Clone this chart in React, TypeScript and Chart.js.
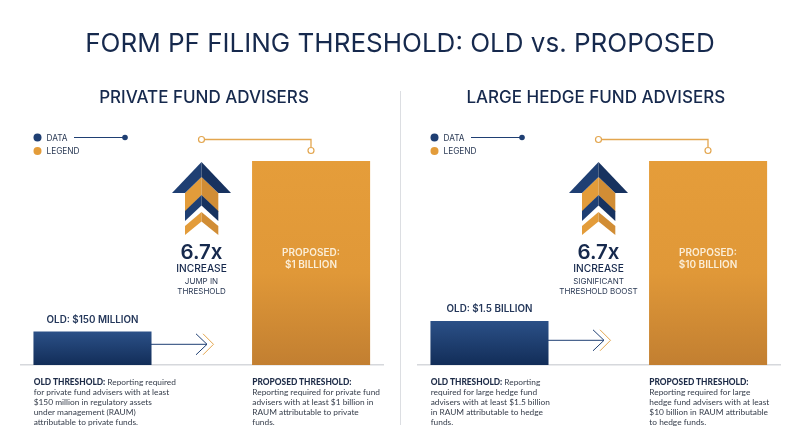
import React, { useEffect, useRef } from "react";
import { Chart, registerables } from "chart.js";

Chart.register(...registerables);

const categories = ["Old threshold", "Proposed threshold"];
const categoryPositions = [0, 1];
const privateValues = [162, 1000];
const hedgeValues = [2.14, 10];
const privateMax = 1000;
const hedgeMax = 10;

const mainTitle = "FORM PF FILING THRESHOLD: OLD vs. PROPOSED";
const legendLabels = ["DATA", "LEGEND"];

const privateText = {
  title: "PRIVATE FUND ADVISERS",
  titleX: 204,
  note: ["JUMP IN", "THRESHOLD"],
  proposed: "$1 BILLION",
  old: "OLD: $150 MILLION",
  oldLabelY: 320,
  oldLines: ["Reporting required", "for private fund advisers with at least", "$150 million in regulatory assets", "under management (RAUM)", "attributable to private funds."],
  newLines: ["", "Reporting required for private fund", "advisers with at least $1 billion in", "RAUM attributable to private", "funds."],
};
const hedgeText = {
  title: "LARGE HEDGE FUND ADVISERS",
  titleX: 198.8,
  note: ["SIGNIFICANT", "THRESHOLD BOOST"],
  proposed: "$10 BILLION",
  old: "OLD: $1.5 BILLION",
  oldLabelY: 309,
  oldLines: ["Reporting", "required for large hedge fund", "advisers with at least $1.5 billion", "in RAUM attributable to hedge", "funds."],
  newLines: ["", "Reporting required for large", "hedge fund advisers with at least", "$10 billion in RAUM attributable", "to hedge funds."],
};

const NAVY = "#1f3f73";
const NAVY_DARK = "#17325f";
const GOLD = "#e39c3a";
const GOLD_DARK = "#d18d35";
const LINE_GOLD = "#e3a64f";
const INK = "#16294d";
const HEAD = "Inter, 'Open Sans', sans-serif";
const BODY = "Lato, 'Open Sans', sans-serif";

function BarPanel({ values, max }: { values: number[]; max: number }) {
  const ref = useRef<HTMLCanvasElement | null>(null);
  useEffect(() => {
    const chart = new Chart(ref.current!, {
      type: "bar",
      data: {
        datasets: [
          {
            label: "Filing threshold",
            data: categoryPositions.map((x, i) => ({ x, y: values[i], name: categories[i] })) as any,
            barThickness: 117.4,
            backgroundColor: (c: any) => {
              const area = c.chart.chartArea;
              if (!area) return GOLD;
              const top = c.chart.scales.y.getPixelForValue(values[c.dataIndex]);
              const g = c.chart.ctx.createLinearGradient(0, top, 0, area.bottom);
              if (c.dataIndex === 0) {
                g.addColorStop(0, "#2b5087");
                g.addColorStop(1, "#122d58");
              } else {
                g.addColorStop(0, "#e59d3a");
                g.addColorStop(0.55, "#e09838");
                g.addColorStop(1, "#c27f31");
              }
              return g;
            },
          },
        ],
      },
      options: {
        responsive: false,
        animation: false,
        layout: { padding: { left: 21, right: 17, top: 161, bottom: 74 } },
        plugins: { legend: { display: false }, title: { display: false }, tooltip: { enabled: false } },
        scales: {
          x: {
            type: "linear",
            offset: false,
            min: -0.327,
            max: 1.329,
            grid: { display: false },
            border: { display: true, color: "#d6d8dc", width: 1.5 },
            ticks: { display: false },
          },
          y: { display: false, min: 0, max },
        },
      },
    });
    return () => chart.destroy();
  }, [values, max]);
  return <canvas ref={ref} width={400} height={447} style={{ position: "absolute", left: 0, top: 0, display: "block" }} />;
}

function T({ x, y, size, weight = 400, color = INK, font = HEAD, align = "center", spacing = 0, children }: any) {
  const tx = align === "center" ? "-50%" : "0";
  return (
    <div
      style={{
        position: "absolute",
        left: x,
        top: y,
        transform: `translate(${tx}, -50%)`,
        fontFamily: font,
        fontSize: size,
        fontWeight: weight,
        color,
        whiteSpace: "pre",
        lineHeight: 1,
        letterSpacing: spacing,
      }}
    >
      {children}
    </div>
  );
}

function Decor({ arrowY }: { arrowY: number }) {
  return (
    <svg width={400} height={447} style={{ position: "absolute", left: 0, top: 0 }}>
      <circle cx={37.5} cy={137.5} r={4} fill={NAVY} />
      <circle cx={37.5} cy={151} r={4} fill={GOLD} />
      <line x1={74} y1={137.5} x2={125} y2={137.5} stroke={NAVY} strokeWidth={1} />
      <circle cx={125} cy={137.5} r={2.8} fill={NAVY} />

      <path d="M204.6 139.5H311V147" fill="none" stroke={LINE_GOLD} strokeWidth={1.3} />
      <circle cx={201.5} cy={139.5} r={3} fill="#fff" stroke={LINE_GOLD} strokeWidth={1.2} />
      <circle cx={311} cy={150.5} r={3} fill="#fff" stroke={LINE_GOLD} strokeWidth={1.2} />

      <polygon points="201.5,177 185,193 185,212 201.5,195" fill={GOLD} />
      <polygon points="201.5,177 218.3,193 218.3,212 201.5,195" fill={GOLD_DARK} />
      <polygon points="201.5,162 172,193 185,193 201.5,177" fill={NAVY} />
      <polygon points="201.5,162 231,193 218.3,193 201.5,177" fill={NAVY_DARK} />
      <polygon points="201.5,195 185,211 185,221 201.5,205.5" fill={NAVY} />
      <polygon points="201.5,195 218.3,211 218.3,221 201.5,205.5" fill={NAVY_DARK} />
      <polygon points="201.5,212 185,226 185,235 201.5,221.5" fill={GOLD} />
      <polygon points="201.5,212 218.3,226 218.3,235 201.5,221.5" fill={GOLD_DARK} />

      <line x1={151} y1={arrowY} x2={207} y2={arrowY} stroke={NAVY} strokeWidth={1} />
      <path d={`M196 ${arrowY - 10.5}L207 ${arrowY}L196 ${arrowY + 10.5}`} fill="none" stroke={NAVY} strokeWidth={1} />
      <path d={`M203 ${arrowY - 10.5}L213.5 ${arrowY}L203 ${arrowY + 10.5}`} fill="none" stroke={LINE_GOLD} strokeWidth={1} />
    </svg>
  );
}

const LINE_YS = [382, 392, 402, 412, 422];

function Panel({ left, values, max, text, arrowY }: any) {
  return (
    <div style={{ position: "absolute", left, top: 0, width: 400, height: 447 }}>
      <BarPanel values={values} max={max} />
      <Decor arrowY={arrowY} />
      <T x={text.titleX} y={97} size={17} weight={500}>{text.title}</T>
      <T x={46.5} y={137.5} size={8.3} align="left" color="#2b3a55">{legendLabels[0]}</T>
      <T x={46.5} y={151} size={8.3} align="left" color="#2b3a55">{legendLabels[1]}</T>

      <T x={201.5} y={252} size={20.5} weight={600}>6.7x</T>
      <T x={201.5} y={267.7} size={10.2} weight={500}>INCREASE</T>
      <T x={201.5} y={281} size={8} color="#2b3a55">{text.note[0]}</T>
      <T x={201.5} y={291} size={8} color="#2b3a55">{text.note[1]}</T>

      <T x={311} y={252} size={10} weight={600} color="#fbeed8">PROPOSED:</T>
      <T x={311} y={264} size={10} weight={600} color="#fbeed8">{text.proposed}</T>
      <T x={92.5} y={text.oldLabelY} size={9.8} weight={600} color="#24375a">{text.old}</T>

      {LINE_YS.map((y, i) => (
        <T key={i} x={33.7} y={y} size={8.35} align="left" font={BODY} color="#343c4a">
          {i === 0 ? <b style={{ color: "#1d2b47", fontWeight: 900 }}>OLD THRESHOLD: </b> : null}
          {text.oldLines[i]}
        </T>
      ))}
      {LINE_YS.map((y, i) => (
        <T key={i} x={252.3} y={y} size={8.35} align="left" font={BODY} color="#343c4a">
          {i === 0 ? <b style={{ color: "#1d2b47", fontWeight: 900 }}>PROPOSED THRESHOLD:</b> : null}
          {text.newLines[i]}
        </T>
      ))}
    </div>
  );
}

export default function App() {
  return (
    <div style={{ position: "fixed", left: 0, top: 0, width: 800, height: 447, background: "#fff", overflow: "hidden" }}>
      <Panel left={0} values={privateValues} max={privateMax} text={privateText} arrowY={344.3} />
      <Panel left={397} values={hedgeValues} max={hedgeMax} text={hedgeText} arrowY={340.3} />
      <div style={{ position: "absolute", left: 400, top: 91, width: 1, height: 334, background: "#dcdee2" }} />
      <T x={400} y={43} size={26} weight={400}>{mainTitle}</T>
    </div>
  );
}
